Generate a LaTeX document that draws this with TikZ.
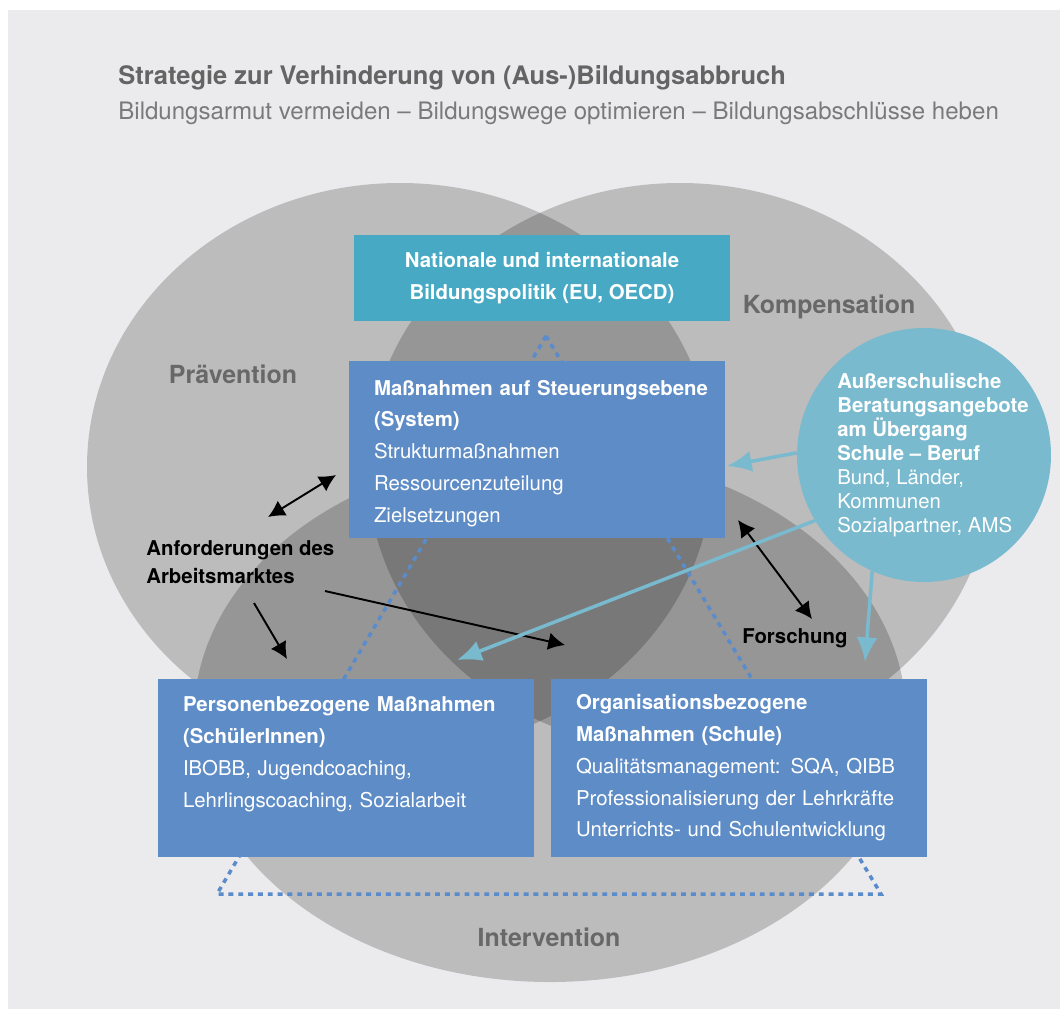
\documentclass[tikz,border=0pt]{standalone}
\usepackage{fontspec}
\setmainfont{TeX Gyre Heros}
\usetikzlibrary{arrows.meta}

\definecolor{paper}{HTML}{EBEBED}
\definecolor{policyteal}{HTML}{47A9C4}
\definecolor{boxblue}{HTML}{5E8CC6}
\definecolor{advblue}{HTML}{79BACE}
\definecolor{dotblue}{HTML}{5A8BCB}
\definecolor{titlegray}{HTML}{646464}
\definecolor{subgray}{HTML}{7A7A7A}
\definecolor{labelgray}{HTML}{686868}

\begin{document}
\begin{tikzpicture}[x=0.02cm, y=-0.02cm,
  sphere/.style={fill=black, fill opacity=0.2},
  mbox/.style={fill=boxblue, text=white, minimum width=7.52cm, inner xsep=0.5cm,
    text width=6.52cm, align=left, font=\fontsize{11.6}{18.1}\selectfont},
  fieldlabel/.style={text=labelgray, anchor=base, font=\fontsize{14.2}{17}\selectfont\bfseries},
  blackarr/.style={line width=1.1pt, -{Latex[length=9.5pt, width=10pt]}},
  blackdbl/.style={line width=1.1pt, {Latex[length=9.5pt, width=10pt]}-{Latex[length=9.5pt, width=10pt]}},
  bluearr/.style={advblue, line width=2pt, -{Latex[length=14pt, width=12pt]}},
  dottri/.style={dotblue, line width=2pt, dash pattern=on 2.8pt off 2.8pt}
]
  \useasboundingbox (0,0) rectangle (1060,1009);
  \fill[paper] (8,10) rectangle (1060,1009);

  \node[anchor=base west, inner sep=0, text=titlegray, font=\fontsize{14.5}{17}\selectfont\bfseries] (title) at (118,84)
    {Strategie zur Verhinderung von (Aus-)Bildungsabbruch};
  \node[anchor=base west, inner sep=0, text=subgray, font=\fontsize{13.7}{16}\selectfont] (subtitle) at (118,119)
    {Bildungsarmut vermeiden – Bildungswege optimieren – Bildungsabschlüsse heben};

  % three overlapping fields
  \fill[sphere] (400,467) ellipse [x radius=313, y radius=284];
  \fill[sphere] (680,467) ellipse [x radius=313, y radius=284];
  \fill[sphere] (550,717) ellipse [x radius=356, y radius=265];

  \node[fieldlabel] (praev) at (233,383) {Prävention};
  \node[fieldlabel] (komp) at (829,313) {Kompensation};
  \node[fieldlabel] (interv) at (549,946) {Intervention};

  \coordinate (apex) at (546,336);
  \coordinate (leftfoot) at (217,894);
  \coordinate (rightfoot) at (881,894);
  \draw[dottri] (apex) -- (leftfoot) -- (rightfoot) -- cycle;

  % boxes later so that they cover the triangle
  \node[fill=policyteal, text=white, minimum width=7.52cm, minimum height=1.72cm, align=center,
    font=\fontsize{11.6}{18.1}\selectfont\bfseries] (politik) at (542,278)
    {Nationale und internationale\\Bildungspolitik (EU, OECD)};
  \node[mbox, minimum height=3.54cm] (steuer) at (537,449.5)
    {\rule{0pt}{13pt}\textbf{\mbox{Maßnahmen auf Steuerungsebene}}\\\textbf{(System)}\\Strukturmaßnahmen\\Ressourcenzuteilung\\Zielsetzungen};
  \node[mbox, minimum height=3.56cm] (person) at (346,768)
    {\textbf{Personenbezogene Maßnahmen}\\\textbf{(SchülerInnen)}\\IBOBB, Jugendcoaching,\\Lehrlingscoaching, Sozialarbeit\\~};
  \node[mbox, minimum height=3.56cm] (orga) at (739,768)
    {\textbf{Organisationsbezogene}\\\textbf{Maßnahmen (Schule)}\\Qualitätsmanagement: SQA, QIBB\\Professionalisierung der Lehrkräfte\\Unterrichts- und Schulentwicklung};

  \node[circle, fill=advblue, minimum size=5.08cm, inner sep=0] (beratung) at (924,455) {};
  \node[anchor=north west, inner sep=0, text=white, align=left, font=\fontsize{11.6}{13.7}\selectfont] (beratungtext) at (837,373)
    {\textbf{Außerschulische}\\\textbf{Beratungsangebote}\\\textbf{am Übergang}\\\textbf{Schule – Beruf}\\Bund, Länder,\\Kommunen\\Sozialpartner, AMS};

  \node[anchor=north west, inner sep=0, align=left, font=\fontsize{11.6}{15.9}\selectfont\bfseries] (markt) at (146,540)
    {Anforderungen des\\Arbeitsmarktes};
  \node[anchor=base west, inner sep=0, font=\fontsize{11.6}{14}\selectfont\bfseries] (forschung) at (742,643) {Forschung};

  \coordinate (marktup) at (268,517);
  \coordinate (steuerin) at (336,475);
  \coordinate (marktdown) at (254,603);
  \coordinate (personin) at (287,659);
  \coordinate (marktright) at (325,591);
  \coordinate (kernin) at (565,645);
  \coordinate (forschtop) at (738,520);
  \coordinate (forschbot) at (812,619);
  \draw[blackdbl] (marktup) -- (steuerin);
  \draw[blackarr] (marktdown) -- (personin);
  \draw[blackarr] (marktright) -- (kernin);
  \draw[blackdbl] (forschtop) -- (forschbot);

  \coordinate (steuerend) at (727,466);
  \coordinate (personend) at (457,660);
  \coordinate (orgaend) at (865,662);
  \draw[bluearr] (beratung.179) -- (steuerend);
  \draw[bluearr] (beratung.211) -- (personend);
  \draw[bluearr] (beratung.246) -- (orgaend);
\end{tikzpicture}
\end{document}
